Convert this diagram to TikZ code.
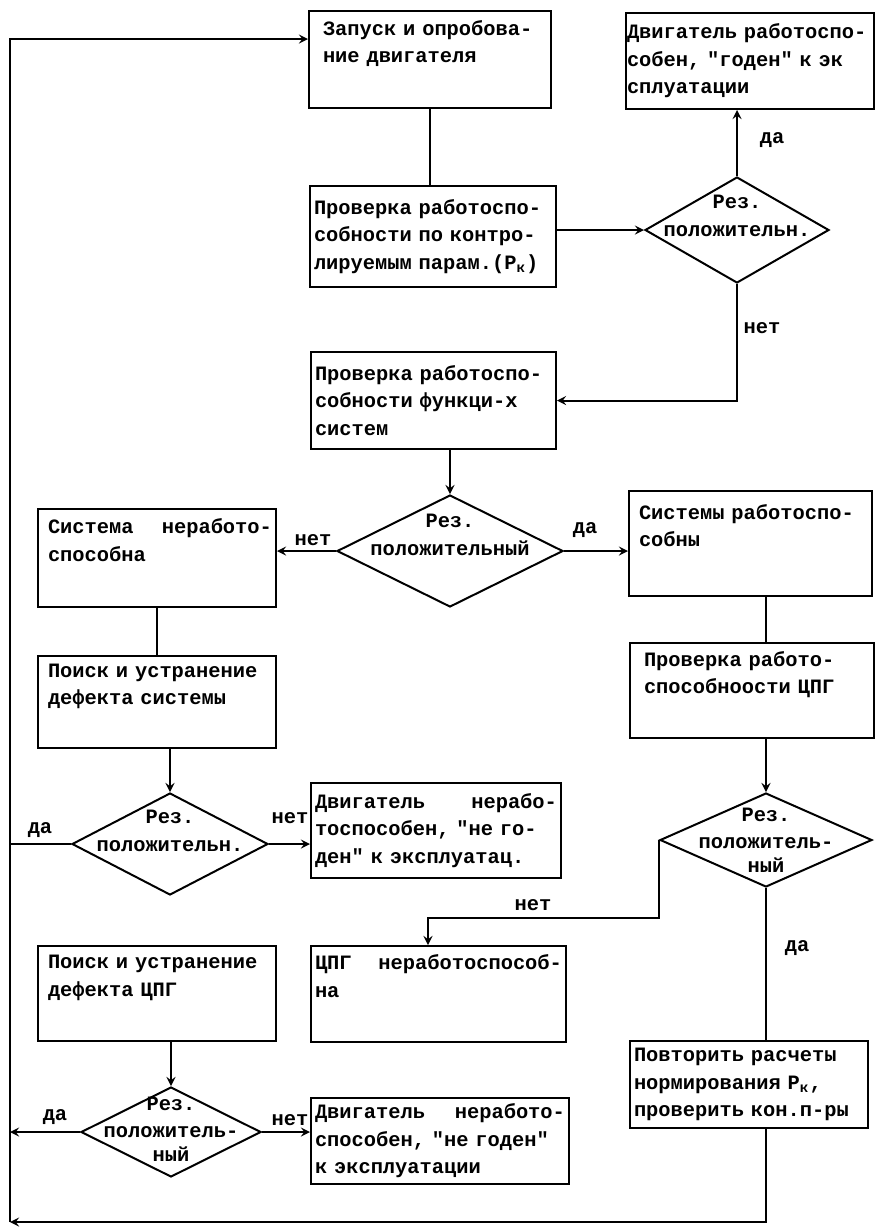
\documentclass[tikz,border=0pt]{standalone}
\usepackage{fontspec}
\usepackage{tikz}
\usetikzlibrary{shapes.geometric}
\newfontfamily\tw{Liberation Mono}
\newcommand{\twf}{\tw\bfseries\fontsize{10.2pt}{13.7pt}\selectfont}
\tikzset{
  blk/.style 2 args={draw, line width=1pt, anchor=north west, align=left, inner xsep=2pt, inner ysep=2pt,
    text width=#1*0.5pt-4pt, minimum height=#2*0.5pt, font=\twf},
  dia/.style 2 args={draw, line width=1pt, diamond, inner sep=0pt, minimum width=#1*0.5pt, minimum height=#2*0.5pt},
  txt/.style={align=center, inner sep=0pt, font=\twf},
  lbl/.style={inner sep=0pt, font=\twf},
}
\begin{document}
\begin{tikzpicture}[x=0.5pt, y=-0.5pt, line width=1pt, >=stealth]
  \useasboundingbox (0,0) rectangle (876,1228);

  % boxes
  \node[blk={242}{97}] (b1) at (308,10) {\hspace{5pt}Запуск и опробова-\\\hspace{5pt}ние двигателя\\ \strut};
  \node[blk={247}{96}, text width=123pt, inner xsep=0.5pt] (b2) at (625,12) {Двигатель работоспо-\\собен, "годен" к эк\\сплуатации};
  \node[blk={246}{101}] (b3) at (309,185) {Проверка работоспо-\\собности по контро-\\лируемым парам.(P\textsubscript{к})};
  \node[blk={245}{97}] (b4) at (310,351) {Проверка работоспо-\\собности функци-х\\систем};
  \node[blk={238}{98}] (b5) at (37,508) {\hspace{3pt}Система \hfill неработо-\\\hspace{3pt}способна\\ \strut};
  \node[blk={243}{105}] (b6) at (628,490) {\hspace{3pt}Системы работоспо-\\\hspace{3pt}собны\\ \strut};
  \node[blk={238}{92}] (b7) at (37,655) {\hspace{3pt}Поиск и устранение\\\hspace{3pt}дефекта системы\\ \strut};
  \node[blk={244}{95}] (b8) at (629,642) {\hspace{5pt}Проверка работо-\\\hspace{5pt}способноости ЦПГ\\ \strut};
  \node[blk={250}{95}] (b9) at (310,782) {Двигатель \hfill нерабо-\\тоспособен, "не го-\\ден" к эксплуатац.};
  \node[blk={255}{96}] (b10) at (310,945) {ЦПГ \hfill неработоспособ-\\на\\ \strut};
  \node[blk={238}{87}] (b11) at (629,1040) {Повторить расчеты\\нормирования P\textsubscript{к},\\проверить кон.п-ры};
  \node[blk={238}{95}] (b12) at (37,945) {\hspace{3pt}Поиск и устранение\\\hspace{3pt}дефекта ЦПГ\\ \strut};
  \node[blk={258}{86}] (b13) at (310,1097) {Двигатель \hfill неработо-\\способен, "не годен"\\к эксплуатации};

  % diamonds
  \node[dia={184}{106}] (d1) at (737,230) {};
  \node[dia={226}{112}] (d2) at (450,551) {};
  \node[dia={196}{102}] (d3) at (170,844) {};
  \node[dia={212}{94}] (d4) at (766,840) {};
  \node[dia={180}{90}] (d5) at (171,1132) {};
  \node[txt] (d1t) at (737,216) {Рез.\\положительн.};
  \node[txt] (d2t) at (450,535) {Рез.\\положительный};
  \node[txt] (d3t) at (170,831) {Рез.\\положительн.};
  \node[txt] (d4t) at (766,840) {Рез.\\положитель-\\[-2pt]ный};
  \node[txt] (d5t) at (171,1129) {Рез.\\положитель-\\[-2pt]ный};

  % loop corners
  \coordinate (lt) at (10,39);
  \coordinate (lb) at (10,1222);
  \coordinate (n4) at (428,918);

  % connectors
  \draw (b1.south) -- (b1.south |- b3.north);
  \draw[->] (b3.east |- d1.west) -- (d1.west);
  \draw[->] (d1.north) -- (d1.north |- b2.south);
  \draw[->] (d1.south) |- (b4.east);
  \draw[->] (d2.north |- b4.south) -- (d2.north);
  \draw[->] (d2.west) -- (d2.west -| b5.east);
  \draw[->] (d2.east) -- (d2.east -| b6.west);
  \draw (b5.south) -- (b7.north);
  \draw (d4.north |- b6.south) -- (d4.north |- b8.north);
  \draw[->] (d3.north |- b7.south) -- (d3.north);
  \draw[->] (d3.east) -- (d3.east -| b9.west);
  \draw (d3.west) -- (d3.west -| lt);
  \draw[->] (d4.north |- b8.south) -- (d4.north);
  \draw[->] (d4.west) |- (n4) -- (n4 |- b10.north);
  \draw (d4.south) -- (d4.south |- b11.north);
  \draw[->] (d5.north |- b12.south) -- (d5.north);
  \draw[->] (d5.west) -- (d5.west -| lt);
  \draw[->] (d5.east) -- (d5.east -| b13.west);
  \draw[->] (d4.south |- b11.south) |- (lb);
  \draw[->] (lb) -- (lt) -- (lt -| b1.west);

  % labels
  \node[lbl] (l1) at (772,140) {да};
  \node[lbl] (l2) at (762,328) {нет};
  \node[lbl] (l3) at (313,540) {нет};
  \node[lbl] (l4) at (585,530) {да};
  \node[lbl] (l5) at (290,818) {нет};
  \node[lbl] (l6) at (40,830) {да};
  \node[lbl] (l7) at (533,905) {нет};
  \node[lbl] (l8) at (797,948) {да};
  \node[lbl] (l9) at (55,1117) {да};
  \node[lbl] (l10) at (290,1120) {нет};
\end{tikzpicture}
\end{document}
